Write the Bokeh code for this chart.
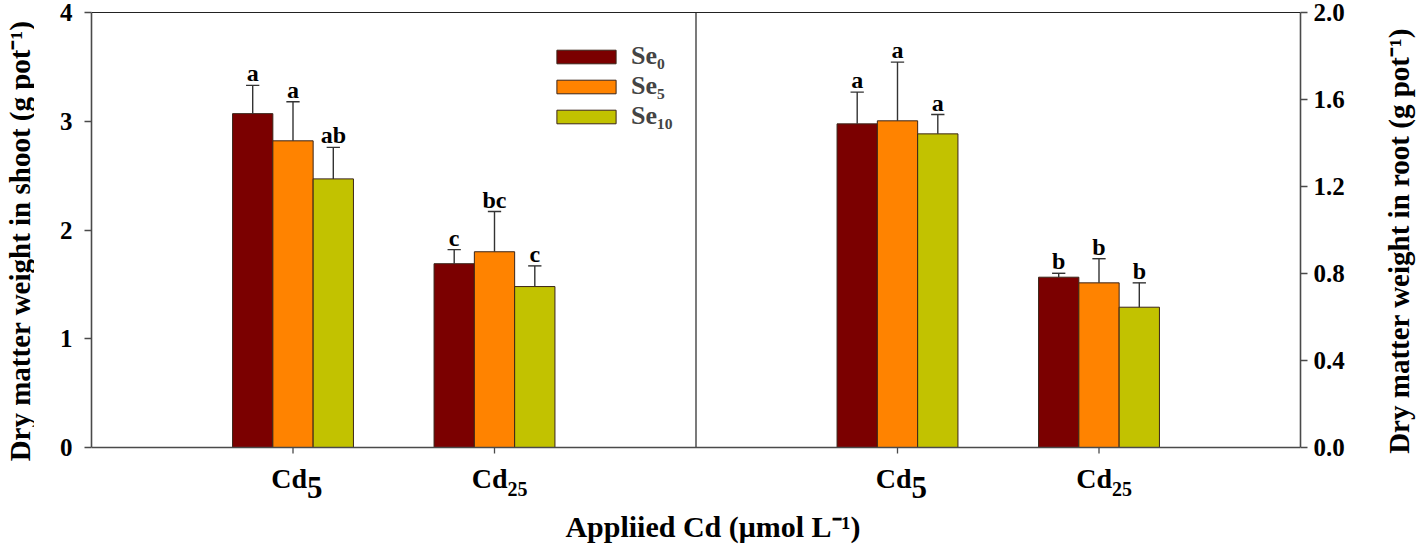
import math
from bokeh.plotting import figure
from bokeh.layouts import row
from bokeh.models import (Range1d, LinearAxis, FixedTicker, Span, Legend,
                          LegendItem, ColumnDataSource, PrintfTickFormatter)
from bokeh.core.properties import value
from bokeh.embed import file_html
from bokeh.resources import INLINE

# ---------------- data ----------------
cd_main = ["Cd", "Cd"]
cd_sub = ["5", "25"]
series = ["Se\u2080", "Se\u2085", "Se\u2081\u2080"]
colors = ["#7b0000", "#ff8300", "#c2c200"]

shoot_se0 = [3.07, 1.69]
shoot_se5 = [2.82, 1.80]
shoot_se10 = [2.47, 1.48]
shoot_err_se0 = [0.26, 0.13]
shoot_err_se5 = [0.36, 0.37]
shoot_err_se10 = [0.29, 0.19]
shoot_let_se0 = ["a", "c"]
shoot_let_se5 = ["a", "bc"]
shoot_let_se10 = ["ab", "c"]

root_se0 = [1.488, 0.783]
root_se5 = [1.502, 0.757]
root_se10 = [1.442, 0.645]
root_err_se0 = [0.146, 0.018]
root_err_se5 = [0.270, 0.111]
root_err_se10 = [0.089, 0.112]
root_let_se0 = ["a", "b"]
root_let_se5 = ["a", "b"]
root_let_se10 = ["a", "b"]

shoot_ticks = [0, 1, 2, 3, 4]
root_ticks = [0.0, 0.4, 0.8, 1.2, 1.6, 2.0]
shoot_max = 4
root_max = 2

x_title = "Appliied Cd (\u03bcmol L\u207b\u00b9)"
y_title_left = "Dry matter weight in shoot (g pot\u207b\u00b9)"
y_title_right = "Dry matter weight in root (g pot\u207b\u00b9)"

FONT = "Liberation Serif"
AX = "#4a4a4a"

# ---------------- geometry ----------------
PLOT_H = 435          # pixel height of the 0..max region
BELOW = 97            # pixels kept below zero for category labels / title
TOP = 1               # one pixel above the top so the top rule shows
TOP_BORDER = 11
TOTAL_H = TOP_BORDER + PLOT_H + BELOW + TOP
px = PLOT_H / shoot_max
y_lo, y_hi = -BELOW / px, shoot_max + TOP / px
r_lo, r_hi = y_lo * root_max / shoot_max, y_hi * root_max / shoot_max


def strip(width):
    f = figure(frame_width=width, frame_height=TOTAL_H, output_backend="svg",
               toolbar_location=None, x_range=Range1d(0, width),
               y_range=Range1d(TOTAL_H, 0), min_border_left=0, min_border_right=0,
               min_border_top=0, min_border_bottom=0)
    f.xaxis.visible = False
    f.yaxis.visible = False
    f.xgrid.visible = False
    f.ygrid.visible = False
    f.outline_line_color = None
    f.background_fill_color = "white"
    f.border_fill_color = "white"
    return f


p = figure(frame_width=1209, frame_height=TOTAL_H - TOP_BORDER, output_backend="svg",
           toolbar_location=None, x_range=Range1d(0, 6), y_range=Range1d(y_lo, y_hi),
           min_border_left=57, min_border_right=60, min_border_top=TOP_BORDER,
           min_border_bottom=0)
p.extra_y_ranges = {"root": Range1d(r_lo, r_hi)}
p.xgrid.visible = False
p.ygrid.visible = False
p.outline_line_color = None
p.background_fill_color = "white"
p.border_fill_color = "white"
p.xaxis.visible = False

# y axes
p.yaxis.ticker = FixedTicker(ticks=shoot_ticks)
p.yaxis.bounds = (0, shoot_max)
rax = LinearAxis(y_range_name="root", ticker=FixedTicker(ticks=root_ticks),
                 formatter=PrintfTickFormatter(format="%.1f"), bounds=(0, root_max))
p.add_layout(rax, "right")

for ax in [p.yaxis[0], rax]:
    ax.axis_line_color = AX
    ax.axis_line_width = 1.6
    ax.major_tick_line_color = AX
    ax.major_tick_line_width = 1.3
    ax.major_tick_out = 7
    ax.major_tick_in = 0
    ax.minor_tick_line_color = None
    ax.major_label_text_font = FONT
    ax.major_label_text_font_style = "bold"
    ax.major_label_text_font_size = "25px"
    ax.major_label_text_color = "black"
p.yaxis[0].major_label_standoff = 12
rax.major_label_standoff = 6

# frame rules: top, bottom axis line, panel divider, category ticks
p.add_layout(Span(location=shoot_max, dimension="width", line_color="#222222",
                  line_width=1.2))
p.add_layout(Span(location=0, dimension="width", line_color=AX, line_width=1.6))
mid = (p.x_range.start + p.x_range.end) / 2
p.segment(x0=[mid], y0=[0], x1=[mid], y1=[shoot_max], line_color="#222222", line_width=1.2)
tick_x = [1, 2, 4, 5]
p.segment(x0=tick_x, y0=[0] * 4, x1=tick_x, y1=[-6 / px] * 4, line_color=AX,
          line_width=1.3)

# bars
shoot = [(shoot_se0, shoot_err_se0, shoot_let_se0),
         (shoot_se5, shoot_err_se5, shoot_let_se5),
         (shoot_se10, shoot_err_se10, shoot_let_se10)]
root = [(root_se0, root_err_se0, root_let_se0),
        (root_se5, root_err_se5, root_let_se5),
        (root_se10, root_err_se10, root_let_se10)]
offsets = [-0.2, 0.0, 0.2]
bw = 0.2
cap = 0.033
items = []
for k in range(3):
    for panel, rng, base in [(shoot, "default", 1), (root, "root", 4)]:
        vals, errs, lets = panel[k]
        xs = [base + i + offsets[k] for i in range(len(vals))]
        ups = [v + e for v, e in zip(vals, errs)]
        src = ColumnDataSource(dict(x=xs, top=vals, up=ups, let=lets,
                                    cl=[x - cap for x in xs], cr=[x + cap for x in xs]))
        r = p.vbar(x="x", top="top", width=bw, source=src, fill_color=colors[k],
                   line_color="#3a2418", line_width=1, y_range_name=rng)
        p.segment(x0="x", y0="top", x1="x", y1="up", source=src, line_color="#333333",
                  line_width=1.4, y_range_name=rng)
        p.segment(x0="cl", y0="up", x1="cr", y1="up", source=src, line_color="#333333",
                  line_width=1.4, y_range_name=rng)
        p.text(x="x", y="up", text="let", source=src, text_align="center",
               text_baseline="alphabetic", y_offset=-12, text_font=value(FONT),
               text_font_style="bold", text_font_size="24px", text_color="black",
               y_range_name=rng)
        if rng == "default":
            items.append(LegendItem(label=series[k], renderers=[r]))

leg = Legend(items=items, location=(458, 315 + BELOW + TOP), orientation="vertical",
             glyph_width=74, glyph_height=17, label_height=29, spacing=0,
             padding=0, margin=0, label_standoff=8, border_line_color=None,
             background_fill_alpha=0, label_text_font=FONT,
             label_text_font_style="bold", label_text_font_size="26px")
p.add_layout(leg)

# category labels (Cd with subscript) below the zero line
cat_x, cat_main, cat_sub, cat_split, cat_size, cat_dy = [], [], [], [], [], []
for base in [1, 4]:
    for i in range(len(cd_main)):
        one = len(cd_sub[i]) == 1
        cat_x.append(base + i)
        cat_main.append(cd_main[i])
        cat_sub.append(cd_sub[i])
        cat_split.append(14 if one else 13)
        cat_size.append("31px" if one else "20px")
        cat_dy.append(40 if one else 41)

for j in range(len(cat_x)):
    p.text(x=[cat_x[j]], y=[0], text=[cat_main[j]], x_offset=cat_split[j], y_offset=31,
           text_align="right", text_baseline="alphabetic", text_font=value(FONT),
           text_font_style="bold", text_font_size="28px", text_color="black")
    p.text(x=[cat_x[j]], y=[0], text=[cat_sub[j]], x_offset=cat_split[j],
           y_offset=cat_dy[j], text_align="left", text_baseline="alphabetic",
           text_font=value(FONT), text_font_style="bold", text_font_size=cat_size[j],
           text_color="black")

p.text(x=[mid], y=[0], text=[x_title], x_offset=17, y_offset=79, text_align="center",
       text_baseline="alphabetic", text_font=value(FONT), text_font_style="bold",
       text_font_size="30px", text_color="black")

centre_y = TOP_BORDER + TOP + PLOT_H / 2

# left title strip (reads bottom to top)
p0 = strip(34)
p0.text(x=[19], y=[centre_y], text=[y_title_left], angle=math.pi / 2,
        text_align="center", text_baseline="middle", text_font=value(FONT),
        text_font_style="bold", text_font_size="29px", text_color="black")

# right title strip (reads bottom to top)
p3 = strip(57)
p3.text(x=[38], y=[centre_y], text=[y_title_right], angle=math.pi / 2,
        text_align="center", text_baseline="middle", text_font=value(FONT),
        text_font_style="bold", text_font_size="29px", text_color="black")

layout = row(p0, p, p3, spacing=0)
open("out.html", "w").write(file_html(layout, INLINE, title="Dry matter weight"))
